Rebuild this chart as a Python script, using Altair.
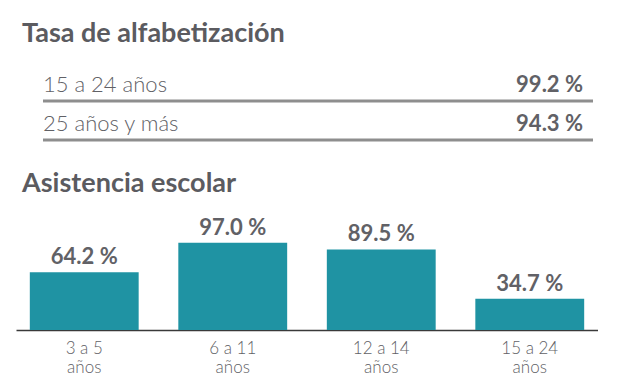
import altair as alt
import pandas as pd

# Literacy rates
lit_groups = ["15 a 24 años", "25 años y más"]
lit_values = [99.2, 94.3]

# School attendance
att_groups = ["3 a 5 años", "6 a 11 años", "12 a 14 años", "15 a 24 años"]
att_values = [64.2, 97.0, 89.5, 34.7]

TEXT = "#616166"
TITLE = "#5b5b60"
FONT = "Lato"

lit_df = pd.DataFrame({"grupo": lit_groups, "valor": lit_values,
                       "etiqueta": [f"{v:.1f} %" for v in lit_values]})
att_df = pd.DataFrame({"grupo": att_groups, "valor": att_values,
                       "etiqueta": [f"{v:.1f} %" for v in att_values]})

W = 582

ysc = alt.Scale(domain=lit_groups, paddingInner=0, paddingOuter=0)
yenc = alt.Y("grupo:N", scale=ysc, axis=None, sort=lit_groups)
yline = alt.Y("grupo:N", scale=ysc, axis=None, sort=lit_groups, bandPosition=1)

base_top = alt.Chart(lit_df)
row_label = base_top.mark_text(align="left", baseline="alphabetic", dy=10,
                               fontSize=22, fontWeight=300, font=FONT, color=TEXT).encode(
    x=alt.value(27), y=yenc, text="grupo:N")
row_value = base_top.mark_text(align="right", baseline="alphabetic", dy=10,
                               fontSize=22, fontWeight="bold", font=FONT, color=TEXT).encode(
    x=alt.value(567), y=yenc, text="etiqueta:N")
row_line = base_top.mark_rule(color="#8e8e8e", strokeWidth=3).encode(
    x=alt.value(27), x2=alt.value(577), y=yline)

top = alt.layer(row_label, row_value, row_line).properties(
    width=W, height=78,
    title=alt.TitleParams("Tasa de alfabetización", anchor="start", dx=6,
                          fontSize=27, fontWeight="bold", font=FONT, color=TITLE,
                          offset=14),
)

xenc = alt.X("grupo:N", sort=att_groups,
             scale=alt.Scale(paddingInner=0.267, paddingOuter=0.093),
             axis=alt.Axis(title=None, ticks=False, labelAngle=0, domainColor="#3a3a3a",
                           domainWidth=1.5, labelFontSize=17, labelFont=FONT,
                           labelFontWeight=300, labelColor=TEXT, labelPadding=10,
                           labelLineHeight=19,
                           labelExpr="[replace(datum.label, ' años', ''), 'años']"))
yatt = alt.Y("valor:Q", scale=alt.Scale(domain=[0, 100]), axis=None)

base_bot = alt.Chart(att_df)
bars = base_bot.mark_bar(color="#1f93a3").encode(x=xenc, y=yatt)
bar_lab = base_bot.mark_text(baseline="alphabetic", dy=-8, fontSize=22, fontWeight="bold",
                             font=FONT, color=TEXT).encode(x=xenc, y=yatt, text="etiqueta:N")

bottom = alt.layer(bars, bar_lab).properties(
    width=W, height=90,
    title=alt.TitleParams("Asistencia escolar", anchor="start", dx=6,
                          fontSize=27, fontWeight="bold", font=FONT, color=TITLE,
                          offset=19),
)

chart = alt.vconcat(top, bottom, spacing=27).properties(
    padding={"left": 8, "top": 12, "right": 0, "bottom": 0},
    background="white",
).configure_view(stroke=None)

chart.save("out.html", embed_options={"renderer": "svg", "actions": False})
